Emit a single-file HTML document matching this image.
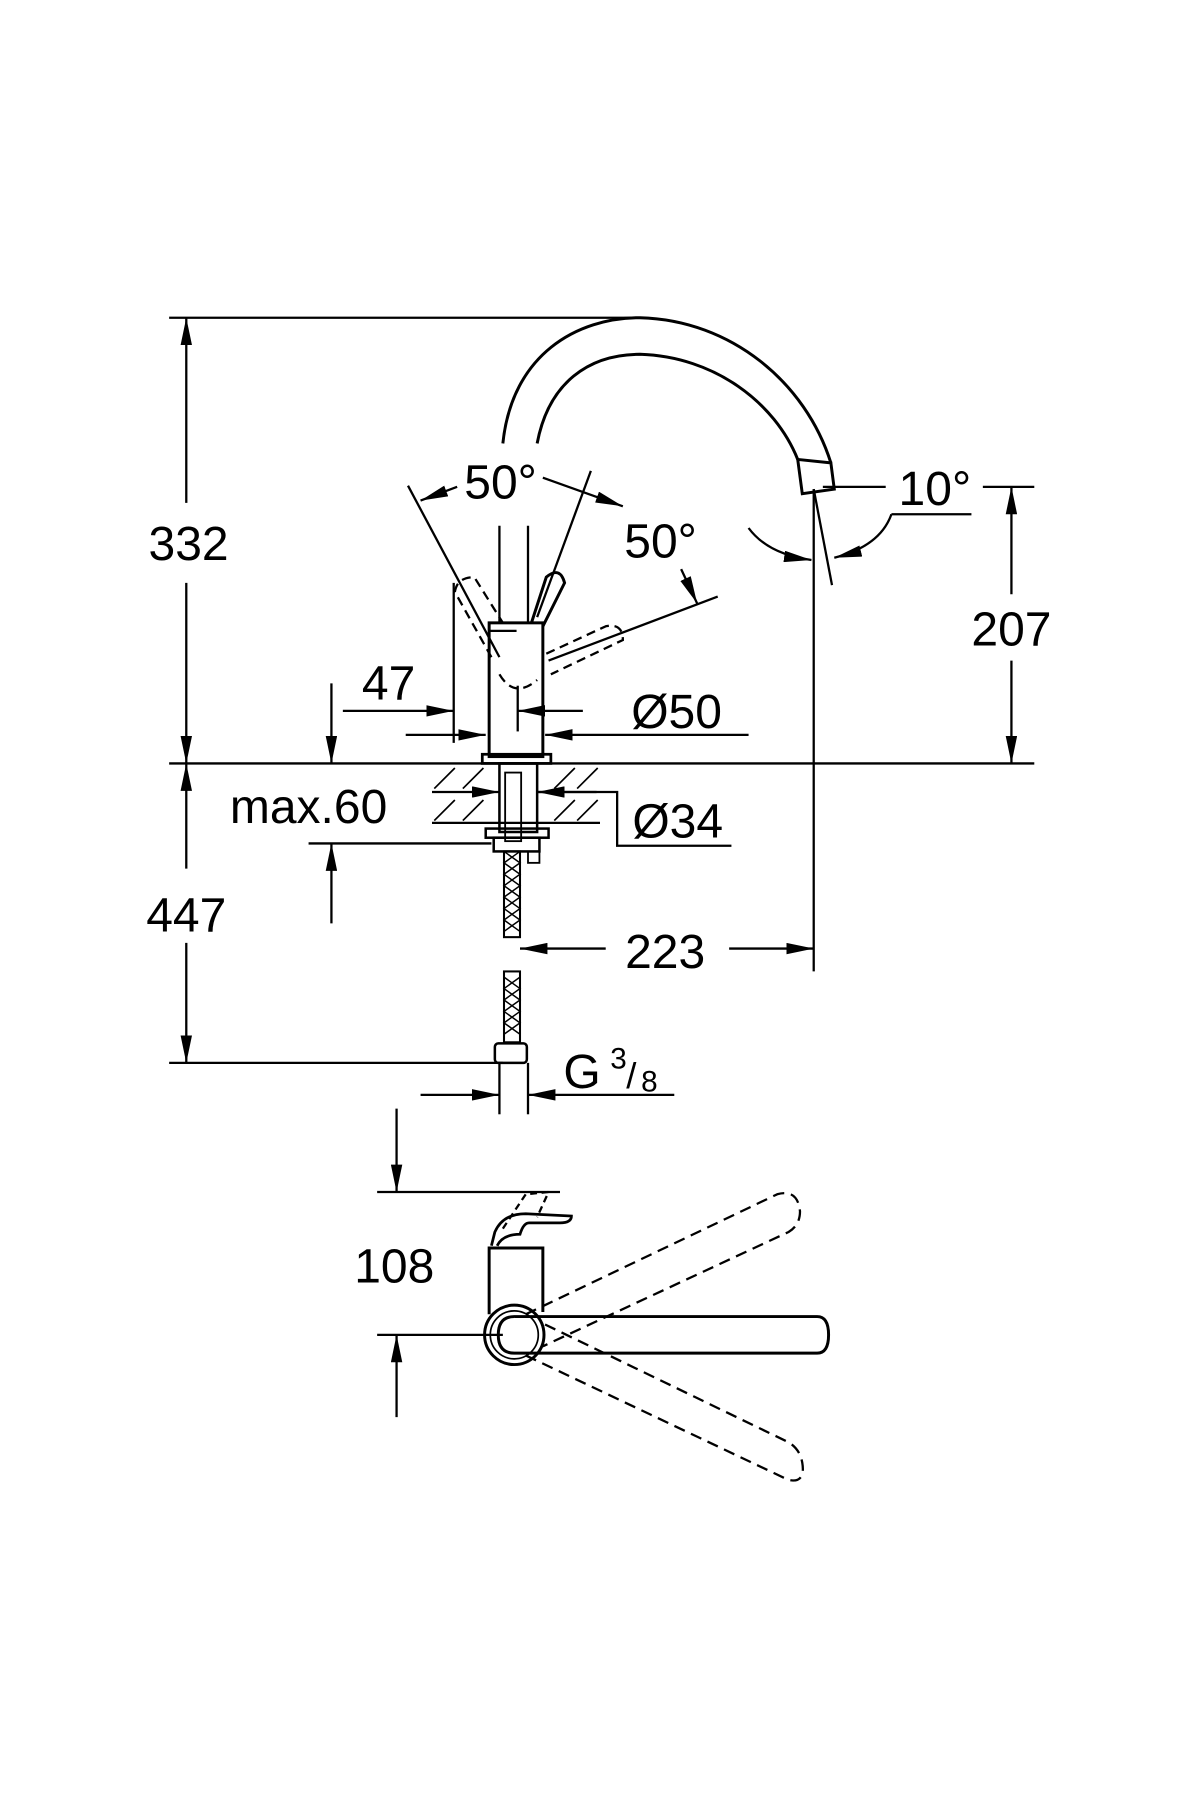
<!DOCTYPE html>
<html><head><meta charset="utf-8"><style>html,body{margin:0;padding:0;background:#fff}svg{display:block}</style></head>
<body>
<svg width="1200" height="1800" viewBox="0 0 1050 1575" xmlns="http://www.w3.org/2000/svg" font-family="Liberation Sans, sans-serif" fill="none" stroke="#000" stroke-width="2">
<defs>
<marker id="a" viewBox="0 0 24 10" refX="24" refY="5" markerWidth="24" markerHeight="10" markerUnits="userSpaceOnUse" orient="auto"><path d="M0,0 L24,5 L0,10z" fill="#000" stroke="none"/></marker>
</defs>
<g fill="#000" stroke="none" font-size="42" text-anchor="middle">
<text x="165" y="490">332</text>
<text x="163" y="815">447</text>
<text x="818" y="442">10°</text>
<text x="885" y="565">207</text>
<text x="438" y="436">50°</text>
<text x="578" y="488">50°</text>
<text x="340" y="612">47</text>
<text x="592" y="637">Ø50</text>
<text x="270" y="720">max.60</text>
<text x="593" y="733">Ø34</text>
<text x="582" y="847">223</text>
<text x="345" y="1122">108</text>
</g>
<text x="493" y="952" font-size="42" fill="#000" stroke="none">G</text>
<text x="534" y="935" font-size="26" fill="#000" stroke="none">3</text>
<text x="548" y="952" font-size="32" fill="#000" stroke="none">/</text>
<text x="561" y="955" font-size="26" fill="#000" stroke="none">8</text>
<!-- main horizontal lines -->
<line x1="148" y1="278" x2="560" y2="278"/>
<line x1="148" y1="668" x2="905" y2="668"/>
<line x1="148" y1="930" x2="440" y2="930"/>
<line x1="163" y1="440" x2="163" y2="278" marker-end="url(#a)"/>
<line x1="163" y1="510" x2="163" y2="668" marker-end="url(#a)"/>
<line x1="163" y1="760" x2="163" y2="668" marker-end="url(#a)"/>
<line x1="163" y1="825" x2="163" y2="930" marker-end="url(#a)"/>
<!-- spout -->
<path d="M440,388 C448,310 505,278 560,278 C640,280 705,335 727,405" stroke-width="2.6"/>
<path d="M470,388 C480,335 515,310 560,310 C625,312 678,352 698,402" stroke-width="2.6"/>
<path d="M698,402 L727,405 L730,428 L702,432 Z" stroke-width="2.6"/>
<!-- 10 deg -->
<line x1="712" y1="428" x2="712" y2="850"/>
<line x1="712" y1="428" x2="728" y2="512"/>
<line x1="720" y1="426" x2="775" y2="426"/>
<line x1="860" y1="426" x2="905" y2="426"/>
<path d="M655,462 Q672,485 710,490" marker-end="url(#a)"/>
<path d="M780,450 Q770,478 730,488" marker-end="url(#a)"/>
<line x1="780" y1="450" x2="850" y2="450"/>
<!-- 207 -->
<line x1="885" y1="520" x2="885" y2="426" marker-end="url(#a)"/>
<line x1="885" y1="578" x2="885" y2="668" marker-end="url(#a)"/>
<!-- faucet body -->
<rect x="428" y="545" width="47" height="117" stroke-width="2.6"/>
<line x1="428" y1="552" x2="452" y2="552"/>
<rect x="422" y="660" width="60" height="8" stroke-width="2.4"/>
<line x1="437" y1="460" x2="437" y2="545"/>
<line x1="462" y1="460" x2="462" y2="545"/>
<path d="M465,545 L478,505 Q490,495 494,510 L475,548" stroke-width="2.6"/>
<path d="M430,575 L398,518 Q400,505 415,505 L440,545 M437,590 Q450,612 470,595" stroke-dasharray="8,5"/>
<path d="M478,572 L530,548 Q545,545 545,560 L482,590" stroke-dasharray="8,5"/>
<!-- 50 deg -->
<line x1="357" y1="425" x2="437" y2="575"/>
<line x1="517" y1="412" x2="470" y2="540"/>
<line x1="400" y1="426" x2="368" y2="438" marker-end="url(#a)"/>
<line x1="475" y1="418" x2="545" y2="443" marker-end="url(#a)"/>
<line x1="480" y1="578" x2="628" y2="522"/>
<line x1="596" y1="498" x2="610" y2="528" marker-end="url(#a)"/>
<!-- 47 / Ø50 -->
<line x1="397" y1="510" x2="397" y2="650"/>
<line x1="453" y1="600" x2="453" y2="640"/>
<line x1="300" y1="622" x2="397" y2="622" marker-end="url(#a)"/>
<line x1="510" y1="622" x2="453" y2="622" marker-end="url(#a)"/>
<line x1="355" y1="643" x2="425" y2="643" marker-end="url(#a)"/>
<line x1="655" y1="643" x2="477" y2="643" marker-end="url(#a)"/>
<!-- max.60 -->
<line x1="290" y1="598" x2="290" y2="668" marker-end="url(#a)"/>
<line x1="270" y1="738" x2="430" y2="738"/>
<line x1="290" y1="808" x2="290" y2="738" marker-end="url(#a)"/>
<!-- counter hatch -->
<line x1="378" y1="720" x2="525" y2="720"/>
<path stroke-width="1.5" d="M380,690 L398,672 M405,690 L423,672 M380,718 L398,700 M405,718 L423,700 M485,690 L503,672 M505,690 L523,672 M485,718 L503,700 M505,718 L523,700"/>
<line x1="378" y1="693" x2="437" y2="693" marker-end="url(#a)"/>
<line x1="522" y1="693" x2="470" y2="693" marker-end="url(#a)"/>
<polyline points="470,693 540,693 540,740 640,740"/>
<!-- shank -->
<rect x="437" y="668" width="33" height="60" stroke-width="2.2"/>
<rect x="442" y="676" width="14" height="60" stroke-width="1.6"/>
<rect x="425" y="725" width="55" height="8" stroke-width="2.2"/>
<rect x="432" y="733" width="40" height="12" stroke-width="2.2"/>
<rect x="462" y="745" width="10" height="10" stroke-width="1.6"/>
<path d="M441,745 L455,755 L441,765 L455,775 L441,785 L455,795 L441,805 L455,815 M455,745 L441,755 L455,765 L441,775 L455,785 L441,795 L455,805 L441,815" stroke-width="1.3"/>
<rect x="441" y="745" width="14" height="75" stroke-width="1.8"/>
<rect x="441" y="850" width="14" height="62" stroke-width="1.8"/>
<path d="M441,855 L455,865 L441,875 L455,885 L441,895 L455,905 M455,855 L441,865 L455,875 L441,885 L455,895 L441,905" stroke-width="1.3"/>
<rect x="433" y="913" width="28" height="17" rx="3" stroke-width="2.2"/>
<!-- 223 -->
<line x1="530" y1="830" x2="455" y2="830" marker-end="url(#a)"/>
<line x1="638" y1="830" x2="712" y2="830" marker-end="url(#a)"/>
<!-- G3/8 -->
<line x1="437" y1="930" x2="437" y2="975"/>
<line x1="462" y1="930" x2="462" y2="975"/>
<line x1="368" y1="958" x2="437" y2="958" marker-end="url(#a)"/>
<line x1="590" y1="958" x2="462" y2="958" marker-end="url(#a)"/>
<!-- bottom view -->
<line x1="347" y1="970" x2="347" y2="1043" marker-end="url(#a)"/>
<line x1="330" y1="1043" x2="490" y2="1043"/>
<line x1="330" y1="1168" x2="440" y2="1168"/>
<line x1="347" y1="1240" x2="347" y2="1168" marker-end="url(#a)"/>
<path d="M428,1150 L428,1092 L475,1092 L475,1148" stroke-width="2.6"/>
<path d="M430,1090 L433,1078 Q440,1062 460,1062 L500,1064 Q500,1070 490,1070 L463,1070 Q458,1070 455,1080 Q440,1080 435,1090" stroke-width="2.4"/>
<path d="M440,1075 L460,1045 L480,1043 L470,1065" stroke-dasharray="6,4"/>
<circle cx="450" cy="1168" r="26" stroke-width="2.6"/>
<circle cx="450" cy="1168" r="21" stroke-width="1.5"/>
<path d="M450,1152 L715,1152 Q725,1152 725,1168 Q725,1184 715,1184 L450,1184 Q436,1184 436,1168 Q436,1152 450,1152" stroke-width="2.6"/>
<path d="M460,1150 L680,1045 Q698,1040 700,1060 Q700,1072 690,1078 L475,1178" stroke-dasharray="10,6"/>
<path d="M460,1186 L690,1295 Q705,1298 702,1280 Q700,1268 690,1262 L475,1158" stroke-dasharray="10,6"/>
</svg>
</body></html>
